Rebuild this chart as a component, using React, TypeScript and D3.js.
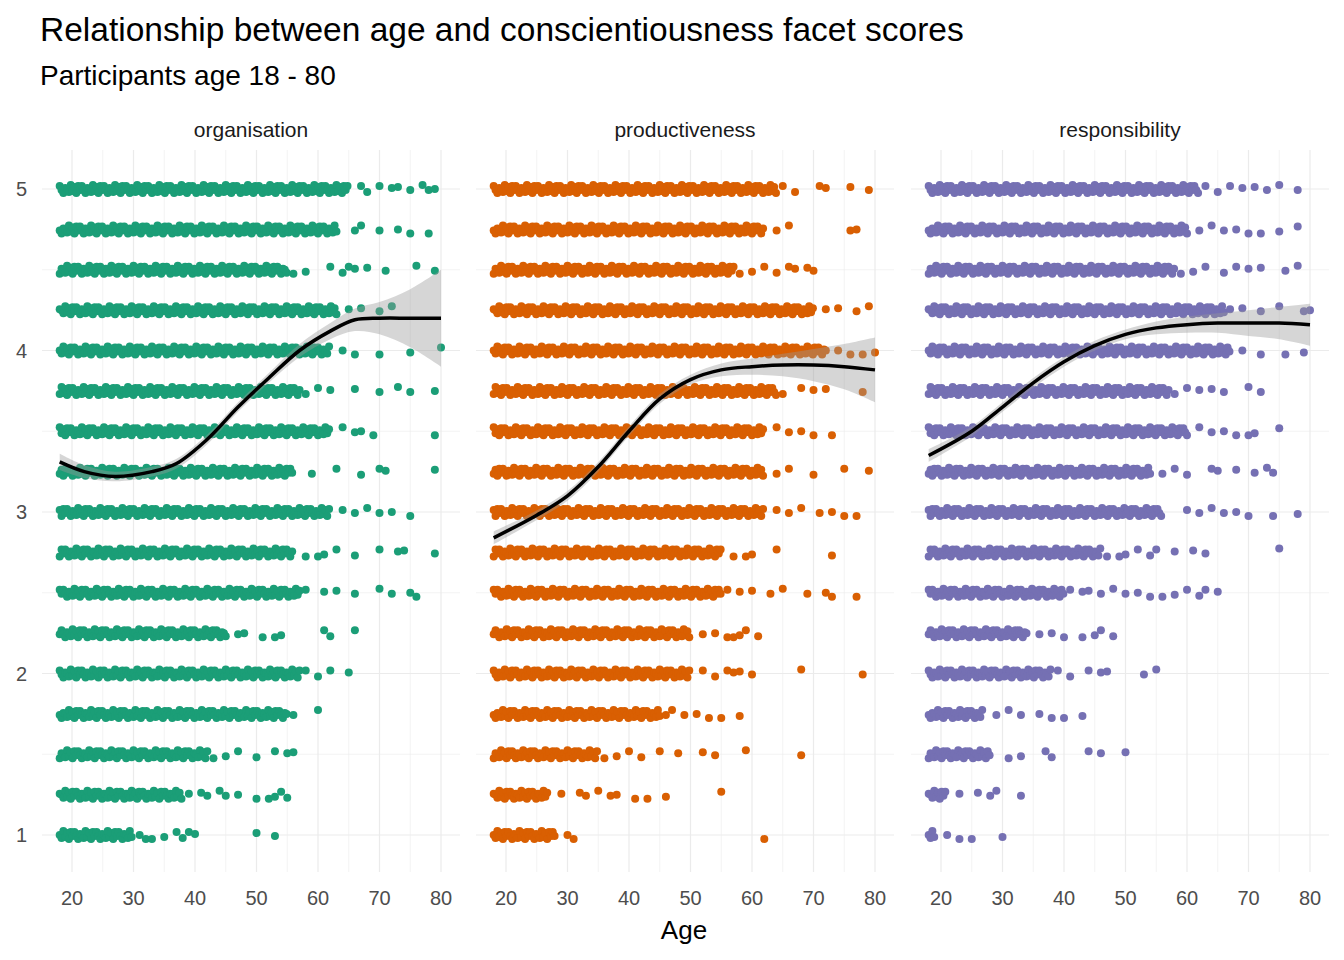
import React from "react";
import * as d3 from "d3";

const facets = ["organisation", "productiveness", "responsibility"];
const colors = ["#1B9E77", "#D95F02", "#7570B3"];
const levels = [5, 4.75, 4.5, 4.25, 4, 3.75, 3.5, 3.25, 3, 2.75, 2.5, 2.25, 2, 1.75, 1.5, 1.25, 1];
// dense run end age per level
const denseEnd = [
  [65, 63, 55, 63, 62, 57, 62, 56, 62, 56, 57, 45, 57, 55, 42, 38, 30],
  [64, 62, 57, 70, 72, 64, 62, 62, 62, 55, 55, 50, 50, 45, 35, 27, 28],
  [62, 60, 58, 66, 67, 57, 60, 54, 56, 46, 40, 34, 38, 27, 28, 21, 19],
];
// sparse ages per level
const sparse = [
  [[67,68,70,72,73,75,77,78,79],[66,67,70,73,75,78],[56,58,62,64,65,66,68,71,76,79],[65,67,70,72],[64,66,70,75,80],[58,60,62,66,70,73,75,79],[64,66,67,69,79],[59,63,67,70,71,79],[64,66,68,70,72,75],[58,60,61,63,66,70,73,74,79],[58,61,63,66,70,72,75,76],[47,48,51,53,54,61,62,66],[58,60,62,65],[56,60],[43,45,47,50,53,55,56],[39,41,42,44,45,47,50,52,53,54,55],[31,32,33,35,37,38,39,40,50,53]],
  [[65,67,71,72,76,79],[64,66,76,77],[58,60,62,64,66,67,69,70],[72,74,77,79],[74,76,78,80],[65,68,70,72,78],[64,66,68,70,73],[64,66,70,75,79],[64,66,68,71,73,75,77],[57,59,60,64,73],[56,58,60,63,65,69,72,73,77],[52,54,56,57,58,59,61],[52,54,56,57,58,60,68,78],[46,47,49,51,53,55,58],[36,38,40,42,45,48,52,54,59,68],[29,32,33,35,37,38,41,43,46,55],[30,31,62]],
  [[63,65,67,69,71,73,75,78],[62,64,66,68,70,72,75,78],[59,61,63,66,68,70,72,76,78],[67,69,72,75,79,80],[69,72,76,79],[58,60,62,64,66,70,72],[62,64,66,68,70,71,75],[56,58,60,64,65,68,71,73,74],[60,62,64,66,68,70,74,78],[47,49,50,52,54,55,58,61,63,75],[41,43,44,46,48,50,52,54,56,58,60,62,63,65],[36,38,40,43,45,46,48],[39,41,44,46,47,53,55],[29,31,33,36,38,40,43],[31,33,37,38,44,46,50],[23,26,28,29,33],[21,23,25,30]],
];
// smooth fits: [age, fit, halfwidth]
const fits = [
  [[18,3.31,0.05],[22,3.25,0.04],[27,3.22,0.03],[33,3.25,0.03],[37,3.3,0.03],[42,3.45,0.03],[47,3.65,0.03],[52,3.83,0.03],[57,4.0,0.04],[62,4.12,0.05],[66,4.19,0.07],[70,4.2,0.1],[75,4.2,0.18],[80,4.2,0.3]],
  [[18,2.84,0.04],[25,2.98,0.03],[30,3.1,0.03],[35,3.28,0.03],[40,3.5,0.03],[45,3.7,0.03],[50,3.82,0.03],[55,3.88,0.04],[60,3.9,0.05],[65,3.91,0.07],[70,3.91,0.1],[75,3.9,0.14],[80,3.88,0.2]],
  [[18,3.35,0.04],[25,3.5,0.03],[30,3.65,0.03],[35,3.8,0.03],[40,3.93,0.03],[45,4.03,0.03],[50,4.1,0.03],[55,4.14,0.04],[60,4.16,0.05],[65,4.17,0.06],[70,4.17,0.08],[75,4.17,0.1],[80,4.16,0.13]],
];
const xTicks = [20, 30, 40, 50, 60, 70, 80];
const yTicks = [1, 2, 3, 4, 5];

const jit = [-3, 1, 4, -1, 0, 3, -4, 2, -2, 4, -3, 1];

export default function App() {
  const panelLeft = [42, 476, 911];
  const panelW = 418;
  const top = 150, bottom = 872;
  const y = d3.scaleLinear().domain([1, 5]).range([835, 189]);
  const font = "Liberation Sans, Arial, sans-serif";
  return (
    <svg width={1344} height={960} style={{ position: "absolute", left: 0, top: 0, background: "#fff" }} fontFamily={font}>
      <text x={40} y={41} fontSize={33.5}>Relationship between age and conscientiousness facet scores</text>
      <text x={40} y={85} fontSize={28}>Participants age 18 - 80</text>
      {facets.map((f, fi) => {
        const x0 = panelLeft[fi];
        const x = d3.scaleLinear().domain([20, 80]).range([x0 + 30, x0 + 399]);
        const line = d3.line<number[]>().x(d => x(d[0])).y(d => y(d[1])).curve(d3.curveCatmullRom);
        const area = d3.area<number[]>().x(d => x(d[0])).y0(d => y(d[1] - d[2])).y1(d => y(d[1] + d[2])).curve(d3.curveCatmullRom);
        const pts: [number, number][] = [];
        levels.forEach((lv, li) => {
          let k = 0;
          for (let a = 18; a <= denseEnd[fi][li]; a += 0.3, k++) pts.push([x(a), y(lv) + jit[(k + li) % jit.length]]);
          sparse[fi][li].forEach((a, j) => pts.push([x(a), y(lv) + jit[(j * 5 + li) % jit.length]]));
        });
        return (
          <g key={f}>
            {d3.range(20, 81, 5).map(t => (
              <line key={"x" + t} x1={x(t)} x2={x(t)} y1={top} y2={bottom} stroke="#ebebeb" strokeWidth={t % 10 === 0 ? 1.2 : 0.6} />
            ))}
            {d3.range(1, 5.01, 0.5).map(t => (
              <line key={"y" + t} x1={x0} x2={x0 + panelW} y1={y(t)} y2={y(t)} stroke="#ebebeb" strokeWidth={t % 1 === 0 ? 1.2 : 0.6} />
            ))}
            {pts.map((p, i) => <circle key={i} cx={p[0]} cy={p[1]} r={4} fill={colors[fi]} />)}
            <path d={area(fits[fi] as number[][]) || ""} fill="#999" fillOpacity={0.4} />
            <path d={line(fits[fi] as number[][]) || ""} fill="none" stroke="#000" strokeWidth={3.5} />
            <text x={x0 + panelW / 2} y={137} textAnchor="middle" fontSize={21} fill="#1a1a1a">{f}</text>
            {xTicks.map(t => (
              <text key={t} x={x(t)} y={905} textAnchor="middle" fontSize={20} fill="#4d4d4d">{t}</text>
            ))}
            {fi === 0 && yTicks.map(t => (
              <text key={t} x={27} y={y(t) + 7} textAnchor="end" fontSize={20} fill="#4d4d4d">{t}</text>
            ))}
          </g>
        );
      })}
      <text x={684} y={939} textAnchor="middle" fontSize={26}>Age</text>
    </svg>
  );
}
